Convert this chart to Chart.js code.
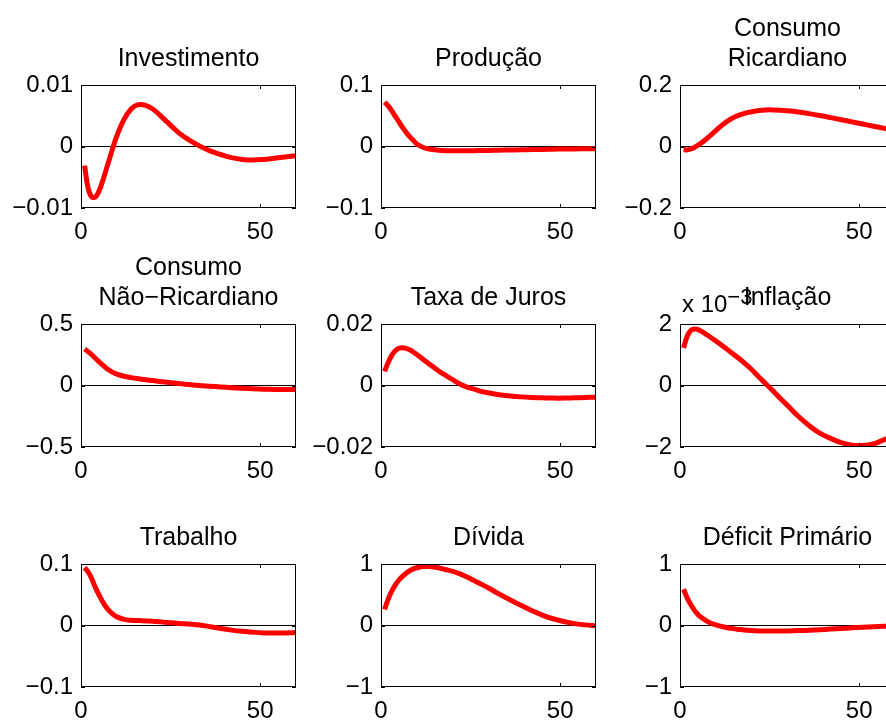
<!DOCTYPE html>
<html>
<head>
<meta charset="utf-8">
<script src="https://cdn.jsdelivr.net/npm/chart.js@4/dist/chart.umd.min.js"></script>
<style>
html, body { margin:0; padding:0; background:#fff; overflow:hidden; width:886px; height:720px; position:relative; }
canvas { position:absolute; }
</style>
</head>
<body>
<script>
// ---- data ----
const periods = [1,2,3,4,5,6,7,8,9,10,12,14,16,18,20,22,24,26,28,30,33,36,39,42,45,48,51,54,57,60];

const investimento = [-0.0031,-0.0068,-0.0082,-0.0082,-0.0073,-0.0057,-0.0038,-0.0019,0.0000,0.0017,0.0044,0.0061,0.0068,0.0067,0.0061,0.0051,0.0040,0.0029,0.0019,0.0011,0.0001,-0.0007,-0.0013,-0.0018,-0.0021,-0.0022,-0.0021,-0.0019,-0.0017,-0.0015];
const producao = [0.072,0.066,0.058,0.049,0.040,0.031,0.023,0.016,0.010,0.004,-0.002,-0.0045,-0.006,-0.0068,-0.007,-0.007,-0.007,-0.0068,-0.0066,-0.0064,-0.006,-0.0057,-0.0054,-0.005,-0.0047,-0.0044,-0.0041,-0.0039,-0.0037,-0.0035];
const consumoRicardiano = [-0.010,-0.011,-0.008,-0.003,0.004,0.012,0.021,0.031,0.041,0.052,0.072,0.088,0.100,0.108,0.113,0.117,0.119,0.119,0.118,0.116,0.112,0.107,0.101,0.094,0.087,0.080,0.073,0.066,0.059,0.052];
const consumoNaoRicardiano = [0.296,0.275,0.25,0.222,0.194,0.167,0.143,0.122,0.105,0.092,0.075,0.064,0.055,0.047,0.040,0.033,0.026,0.020,0.014,0.008,0.000,-0.006,-0.012,-0.018,-0.023,-0.027,-0.030,-0.032,-0.033,-0.033];
const taxaDeJuros = [0.0046,0.0075,0.0098,0.0113,0.0121,0.0123,0.0121,0.0116,0.0109,0.0101,0.0083,0.0065,0.0048,0.0033,0.0019,0.0005,-0.0005,-0.0012,-0.0019,-0.0024,-0.0030,-0.0034,-0.0037,-0.0039,-0.0040,-0.0041,-0.0041,-0.0040,-0.0039,-0.0038];
const inflacao = [1.22,1.60,1.79,1.84,1.82,1.76,1.69,1.61,1.53,1.45,1.28,1.10,0.92,0.73,0.52,0.28,0.05,-0.18,-0.42,-0.65,-1.00,-1.30,-1.55,-1.72,-1.86,-1.94,-1.95,-1.90,-1.76,-1.62]; // x 10^-3
const trabalho = [0.094,0.087,0.076,0.062,0.050,0.039,0.030,0.023,0.018,0.014,0.010,0.0085,0.008,0.0075,0.007,0.006,0.005,0.004,0.003,0.0025,0.0008,-0.002,-0.005,-0.0075,-0.0095,-0.011,-0.012,-0.012,-0.012,-0.0115];
const divida = [0.26,0.43,0.56,0.66,0.74,0.80,0.85,0.89,0.92,0.94,0.96,0.955,0.94,0.91,0.88,0.84,0.79,0.73,0.67,0.61,0.51,0.42,0.33,0.245,0.17,0.11,0.065,0.03,0.01,-0.005];
const deficitPrimario = [0.59,0.45,0.34,0.25,0.18,0.13,0.09,0.055,0.03,0.01,-0.02,-0.045,-0.06,-0.075,-0.083,-0.088,-0.09,-0.091,-0.09,-0.088,-0.083,-0.076,-0.068,-0.058,-0.048,-0.038,-0.028,-0.019,-0.011,-0.005];

const titles = [["Investimento"],["Produção"],["Consumo","Ricardiano"],
                ["Consumo","Não−Ricardiano"],["Taxa de Juros"],["Inflação"],
                ["Trabalho"],["Dívida"],["Déficit Primário"]];
const series = [investimento, producao, consumoRicardiano, consumoNaoRicardiano, taxaDeJuros, inflacao, trabalho, divida, deficitPrimario];
const yLimits = [0.01, 0.1, 0.2, 0.5, 0.02, 2, 0.1, 1, 1];
const yTickLabels = [["−0.01","0","0.01"],["−0.1","0","0.1"],["−0.2","0","0.2"],
                     ["−0.5","0","0.5"],["−0.02","0","0.02"],["−2","0","2"],
                     ["−0.1","0","0.1"],["−1","0","1"],["−1","0","1"]];
const xTickValues = [0, 50];
const xTickLabels = ["0", "50"];
const xMin = 0, xMax = 60;
const exponentLabel = {index: 5, base: "x 10", exp: "−3"};

// ---- layout ----
const FONT = "'Liberation Sans', Arial, Helvetica, sans-serif";
const colLeft = [0, 300, 599];
const rowBoxTop = [85, 324, 564];
const boxH = 123, yAxisW = 81, xAxisH = 45, canvasW = 300, rightPad = 4;
const titleLH = 30, titlePadBottom = 11, titleSize = 25, tickSize = 24;

const framePlugin = {
  id: 'frame',
  afterDraw(chart) {
    const {ctx, chartArea: a, scales} = chart;
    ctx.save();
    ctx.strokeStyle = '#000';
    ctx.lineWidth = 1;
    ctx.strokeRect(a.left + 0.5, a.top + 0.5, a.right - a.left - 1, a.bottom - a.top - 1);
    ctx.beginPath();
    scales.x.ticks.forEach(t => {
      const px = Math.round(scales.x.getPixelForValue(t.value)) + 0.5;
      ctx.moveTo(px, a.top); ctx.lineTo(px, a.top + 4);
      ctx.moveTo(px, a.bottom); ctx.lineTo(px, a.bottom - 4);
    });
    scales.y.ticks.forEach(t => {
      const py = Math.round(scales.y.getPixelForValue(t.value)) + 0.5;
      ctx.moveTo(a.left, py); ctx.lineTo(a.left + 4, py);
      ctx.moveTo(a.right, py); ctx.lineTo(a.right - 4, py);
    });
    ctx.stroke();
    if (chart.options.plugins.frame && chart.options.plugins.frame.exponent) {
      const e = chart.options.plugins.frame.exponent;
      ctx.fillStyle = '#000';
      ctx.textAlign = 'left';
      ctx.textBaseline = 'alphabetic';
      ctx.font = tickSize + 'px ' + FONT;
      const x0 = a.left + 2, y0 = a.top - 12;
      ctx.fillText(e.base, x0, y0);
      const w = ctx.measureText(e.base).width;
      ctx.font = '22px ' + FONT;
      ctx.fillText(e.exp, x0 + w, y0 - 8);
    }
    ctx.restore();
  }
};

series.forEach((vals, i) => {
  const row = Math.floor(i / 3), col = i % 3;
  const n = titles[i].length;
  const titleH = titleLH * n + titlePadBottom;
  const cv = document.createElement('canvas');
  cv.width = canvasW;
  cv.height = titleH + boxH + xAxisH;
  cv.style.left = colLeft[col] + 'px';
  cv.style.top = (rowBoxTop[row] - titleH) + 'px';
  cv.style.width = canvasW + 'px';
  cv.style.height = cv.height + 'px';
  document.body.appendChild(cv);
  const L = yLimits[i];
  const labels = yTickLabels[i];
  new Chart(cv, {
    type: 'line',
    data: {
      datasets: [{
        data: periods.map((p, k) => ({x: p, y: vals[k]})),
        borderColor: '#ff0000',
        borderWidth: 5,
        pointRadius: 0,
        fill: false,
        tension: 0.4
      }]
    },
    options: {
      responsive: false,
      animation: false,
      devicePixelRatio: 1,
      layout: {padding: {left: 0, right: rightPad, top: 0, bottom: 0}},
      plugins: {
        legend: {display: false},
        tooltip: {enabled: false},
        title: {
          display: true,
          text: titles[i],
          fullSize: false,
          color: '#000',
          font: {family: FONT, size: titleSize, weight: 'normal', lineHeight: titleLH + 'px'},
          padding: {top: 0, bottom: titlePadBottom}
        },
        frame: {exponent: i === exponentLabel.index ? exponentLabel : null}
      },
      scales: {
        x: {
          type: 'linear', min: xMin, max: xMax,
          afterBuildTicks: s => { s.ticks = xTickValues.map(v => ({value: v})); },
          afterFit: s => { s.height = xAxisH; },
          grid: {display: false, drawTicks: false},
          border: {display: false},
          ticks: {
            color: '#000', padding: 10, maxRotation: 0, autoSkip: false,
            font: {family: FONT, size: tickSize},
            callback: (v, idx) => xTickLabels[idx]
          }
        },
        y: {
          type: 'linear', min: -L, max: L,
          afterBuildTicks: s => { s.ticks = [-L, 0, L].map(v => ({value: v})); },
          afterFit: s => { s.width = yAxisW; },
          grid: {
            drawTicks: false,
            lineWidth: 1,
            color: c => (c.tick && c.tick.value === 0) ? '#000' : 'rgba(0,0,0,0)'
          },
          border: {display: false},
          ticks: {
            color: '#000', padding: 8, autoSkip: false,
            font: {family: FONT, size: tickSize},
            callback: (v, idx) => labels[idx]
          }
        }
      }
    },
    plugins: [framePlugin]
  });
});
</script>
</body>
</html>
